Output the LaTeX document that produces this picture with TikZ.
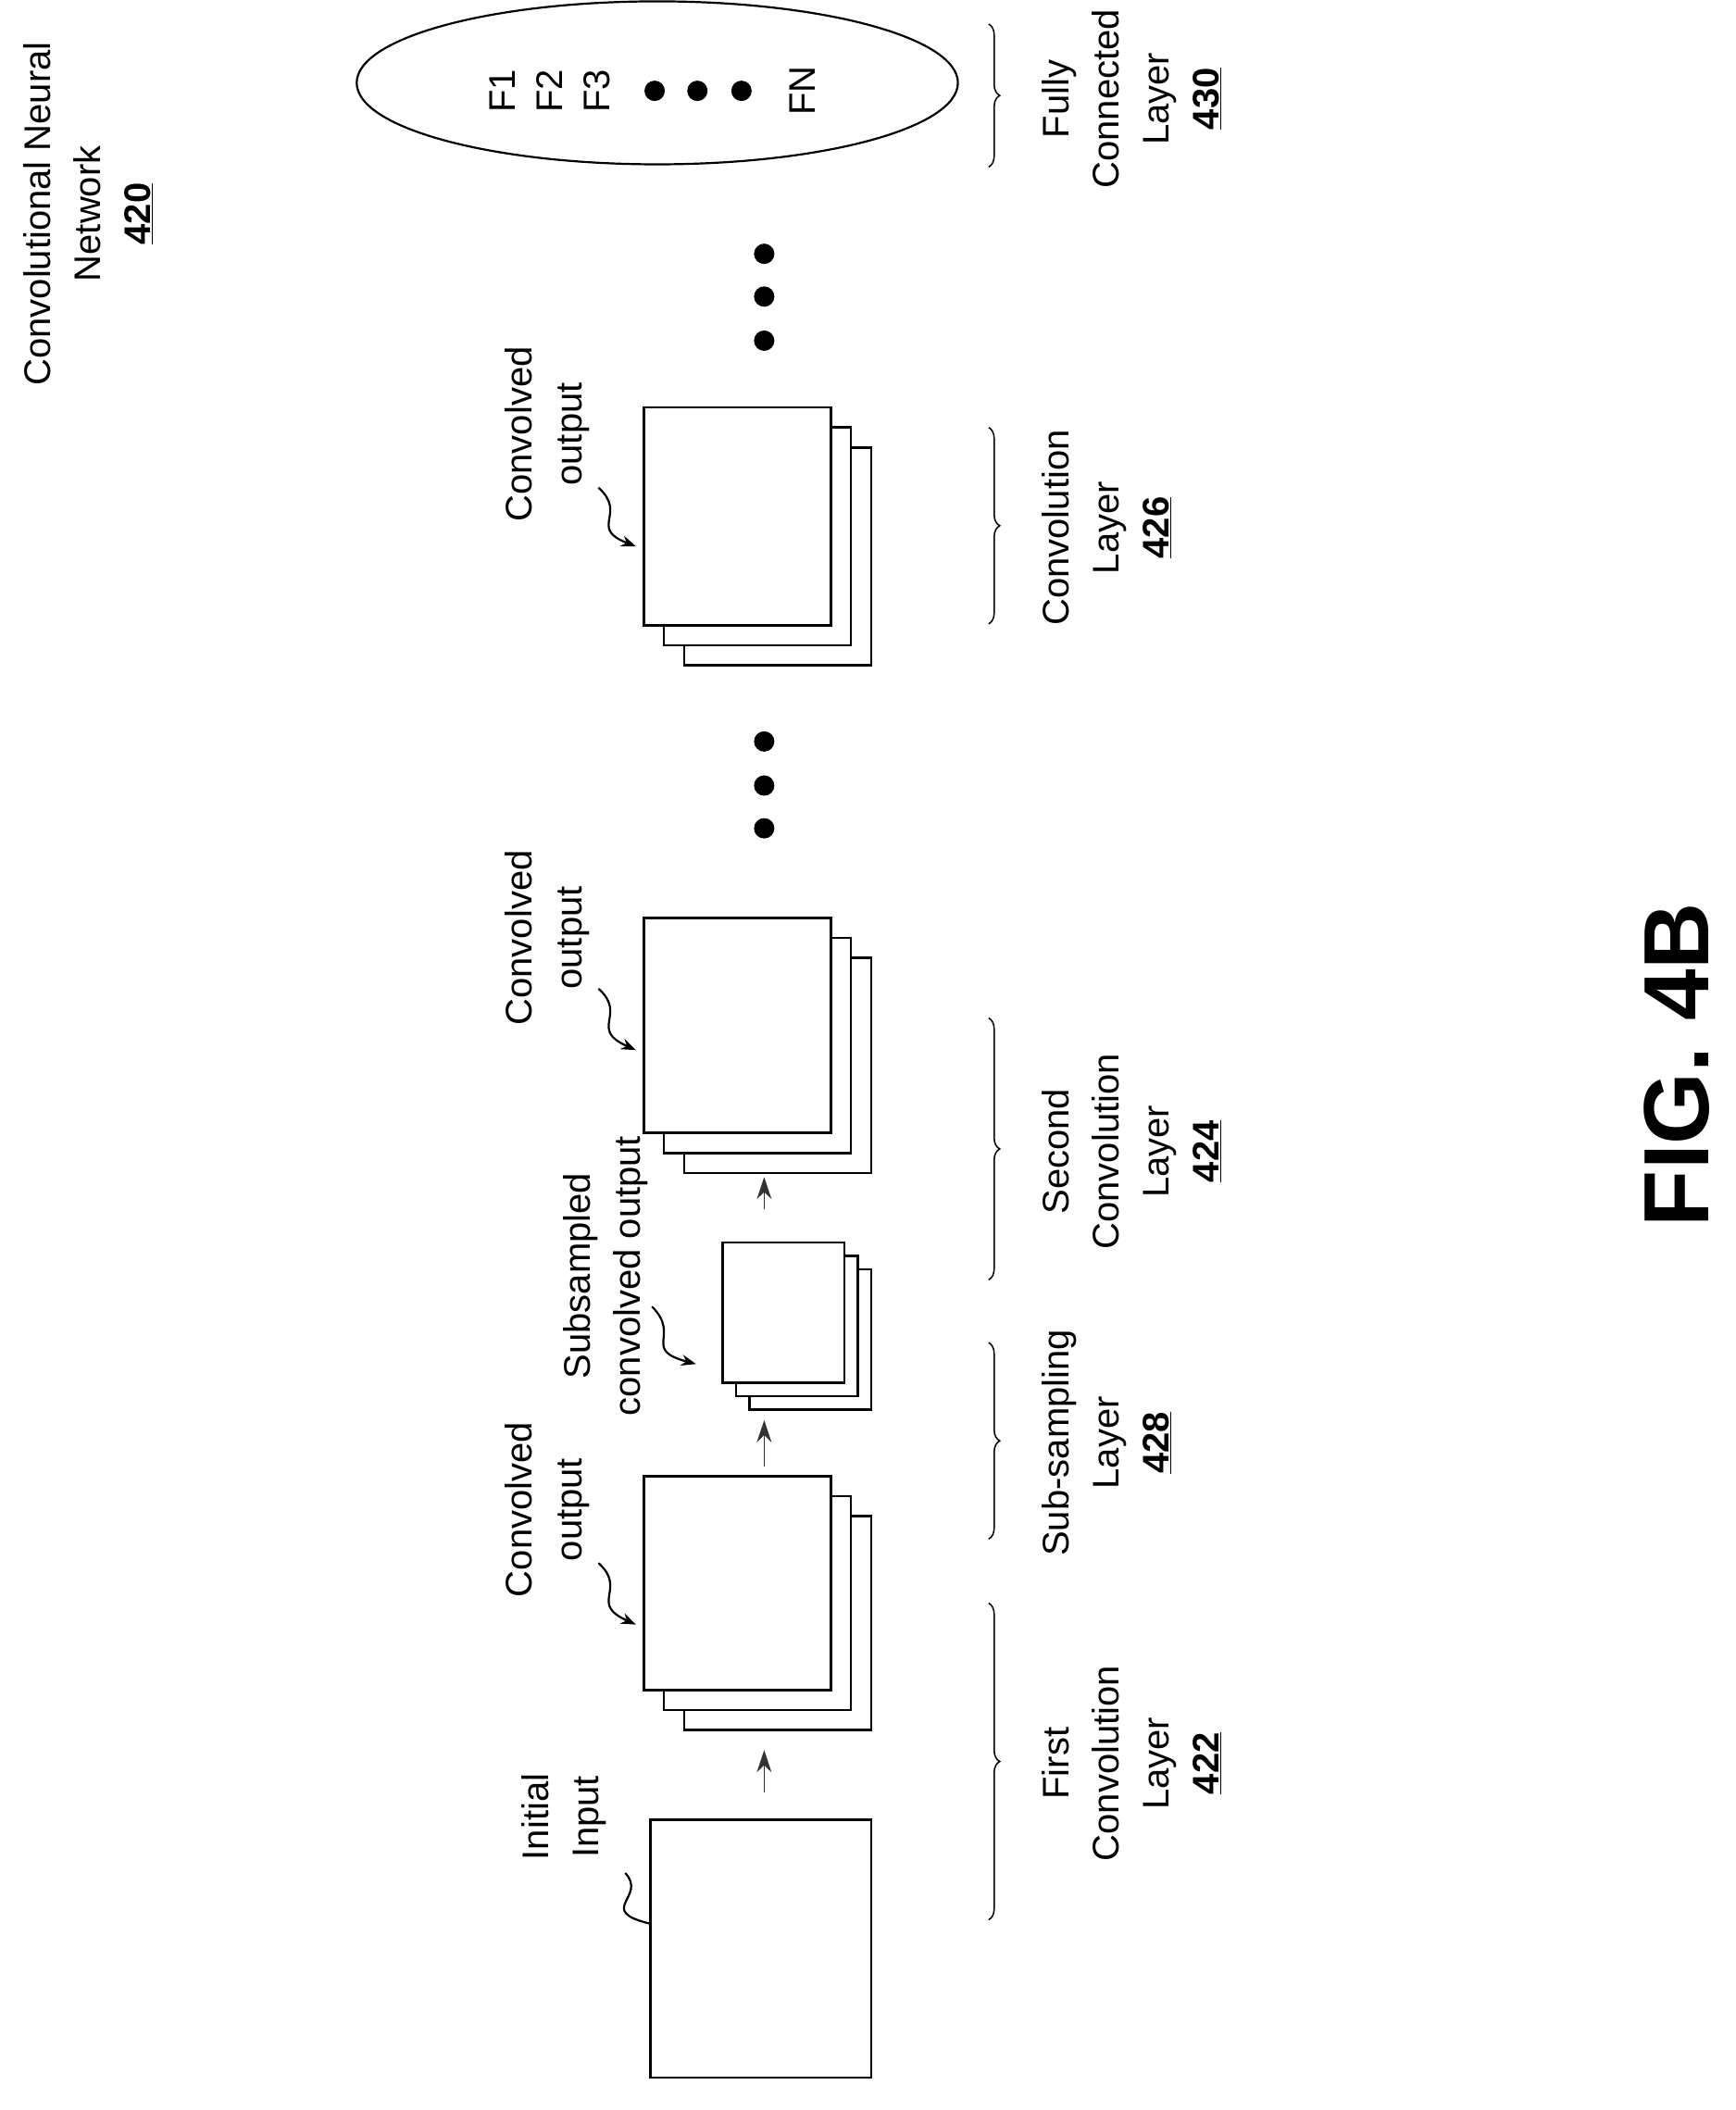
\documentclass[tikz,border=0pt]{standalone}
\usepackage{fontspec}
\setmainfont{Liberation Sans}
\usetikzlibrary{decorations.pathreplacing,arrows.meta}
\begin{document}
\begin{tikzpicture}[x=1.443pt,y=-1.443pt,
  lbl/.style={rotate=90,align=center,font=\fontsize{40}{54}\selectfont,inner sep=0},
  sheet/.style={draw,fill=white,line width=2.6pt},
  br/.style={decorate,decoration={brace,amplitude=12pt},line width=1.5pt},
  wav/.style={line width=2.2pt,-{Stealth[length=16pt,width=12pt]}},
  up/.style={line width=1.5pt,draw=black!80,-{Stealth[length=24pt,width=16pt]}},
  dot/.style={circle,fill=black,inner sep=0,minimum size=22pt}]
\useasboundingbox (0,0) rectangle (1299.4,1579.4);
\node[lbl] (title) at (66,160) {Convolutional Neural\\Network\\\underline{\textbf{420}}};
% fully connected
\draw[line width=2.2pt] (492,62) ellipse [x radius=225,y radius=61];
\node[lbl] (f1) at (376,68) {F1};
\node[lbl] (f2) at (411,68) {F2};
\node[lbl] (f3) at (447,68) {F3};
\node[dot] (d1) at (490,68) {};
\node[dot] (d2) at (522,68) {};
\node[dot] (d3) at (555,68) {};
\node[lbl] (fn) at (601,68) {FN};
\draw[br] (740,18) -- (740,125);
\node[lbl] (l430) at (847,74) {Fully\\Connected\\Layer\\\underline{\textbf{430}}};
\foreach \y in {190,222,255} \node[dot] at (572,\y) {};
\foreach \y in {555,588,620} \node[dot] at (572,\y) {};
% conv 426
\foreach \t in {30,15,0} \draw[sheet] (482+\t,305+\t) rectangle (622+\t,468+\t);
\node[lbl] (c3) at (410,325) {Convolved\\output};
\draw[wav] (448,365) .. controls (470,385) and (440,395) .. (476,409);
\draw[br] (740,320) -- (740,467);
\node[lbl] (l426) at (828,395) {Convolution\\Layer\\\underline{\textbf{426}}};
% conv 424
\foreach \t in {30,15,0} \draw[sheet] (482+\t,687+\t) rectangle (622+\t,848+\t);
\node[lbl] (c2) at (410,702) {Convolved\\output};
\draw[wav] (448,740) .. controls (470,760) and (440,770) .. (476,786);
\draw[br] (740,762) -- (740,958);
\node[lbl] (l424) at (847,862) {Second\\Convolution\\Layer\\\underline{\textbf{424}}};
\coordinate (a3s) at (572,905); \coordinate (a3e) at (572,881);
\draw[up] (a3s) -- (a3e);
% subsampling
\foreach \t in {20,10,0} \draw[sheet] (541+\t,930+\t) rectangle (632+\t,1035+\t);
\node[lbl] (sub) at (453,955) {Subsampled\\convolved output};
\draw[wav] (488,978) .. controls (510,1000) and (480,1010) .. (521,1021);
\draw[br] (740,1005) -- (740,1152);
\node[lbl] (l428) at (828,1080) {Sub-sampling\\Layer\\\underline{\textbf{428}}};
\coordinate (a2s) at (572,1098); \coordinate (a2e) at (572,1063);
\draw[up] (a2s) -- (a2e);
% first conv
\foreach \t in {30,15,0} \draw[sheet] (482+\t,1105+\t) rectangle (622+\t,1265+\t);
\node[lbl] (c1) at (410,1130) {Convolved\\output};
\draw[wav] (448,1170) .. controls (470,1190) and (440,1200) .. (476,1216);
\draw[br] (740,1200) -- (740,1437);
\node[lbl] (l422) at (847,1320) {First\\Convolution\\Layer\\\underline{\textbf{422}}};
\coordinate (a1s) at (572,1342); \coordinate (a1e) at (572,1310);
\draw[up] (a1s) -- (a1e);
% input
\draw[sheet] (487,1362) rectangle (652,1555);
\node[lbl] (inp) at (422,1360) {Initial\\Input};
\draw[line width=2.2pt] (468,1402) .. controls (485,1420) and (445,1430) .. (487,1440);
\node[rotate=90,font=\fontsize{100}{110}\selectfont\bfseries] (fig) at (1255,797) {FIG. 4B};
\end{tikzpicture}
\end{document}
